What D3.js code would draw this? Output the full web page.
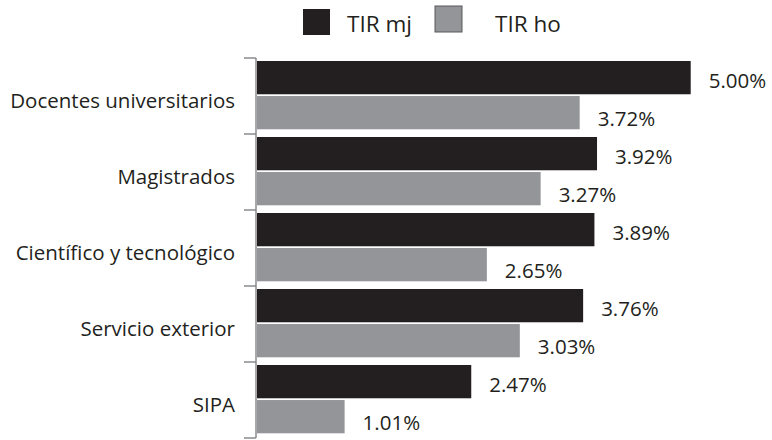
<!DOCTYPE html>
<html>
<head>
<meta charset="utf-8">
<script src="https://cdn.jsdelivr.net/npm/d3@7"></script>
<style>
  body { margin: 0; background: #fff; }
  text { font-family: "Open Sans", sans-serif; fill: #231f20; }
</style>
</head>
<body>
<svg id="chart" width="772" height="440"></svg>
<script>
const categories = ["Docentes universitarios", "Magistrados", "Científico y tecnológico", "Servicio exterior", "SIPA"];
const tirMj = [5.00, 3.92, 3.89, 3.76, 2.47];
const tirHo = [3.72, 3.27, 2.65, 3.03, 1.01];
const seriesNames = ["TIR mj", "TIR ho"];
const colors = ["#231f20", "#939598"];

const svg = d3.select("#chart");

// Scales
const x = d3.scaleLinear().domain([0, 5]).range([257, 690.7]);
const y = d3.scaleBand().domain(categories).range([58, 438]).paddingInner(0);
const inner = d3.scaleBand().domain(seriesNames).range([3, 71.3]).paddingInner(0.05);

const data = categories.map((c, i) => ({ cat: c, vals: [tirMj[i], tirHo[i]] }));

// Bars
const groups = svg.selectAll("g.cat")
  .data(data)
  .enter()
  .append("g")
  .attr("class", "cat")
  .attr("transform", (d) => "translate(0," + y(d.cat) + ")");

groups.selectAll("rect")
  .data((d) => d.vals.map((v, j) => ({ v, s: seriesNames[j], j })))
  .enter()
  .append("rect")
  .attr("x", x(0))
  .attr("y", (d) => inner(d.s))
  .attr("width", (d) => x(d.v) - x(0))
  .attr("height", inner.bandwidth())
  .attr("fill", (d) => colors[d.j]);

// Value labels
groups.selectAll("text.val")
  .data((d) => d.vals.map((v, j) => ({ v, s: seriesNames[j], j })))
  .enter()
  .append("text")
  .attr("class", "val")
  .attr("x", (d) => x(d.v) + 18)
  .attr("y", (d) => inner(d.s) + inner.bandwidth() / 2 + (d.j === 0 ? 2 : 5.5))
  .attr("dominant-baseline", "central")
  .style("font-size", "20.5px")
  .text((d) => d.v.toFixed(2) + "%");

// Category labels
svg.selectAll("text.cat")
  .data(categories)
  .enter()
  .append("text")
  .attr("class", "cat")
  .attr("x", 235)
  .attr("y", (d) => y(d) + y.bandwidth() / 2 + 4)
  .attr("text-anchor", "end")
  .attr("dominant-baseline", "central")
  .style("font-size", "20.5px")
  .text((d) => d);

// Axis line with ticks at band boundaries
const axis = svg.append("g").attr("stroke", "#6d6e71").attr("stroke-width", 1.2);
axis.append("line")
  .attr("x1", 256).attr("x2", 256)
  .attr("y1", y.range()[0]).attr("y2", y.range()[1]);
const bounds = categories.map((c) => y(c)).concat([y.range()[1]]);
axis.selectAll("line.tick")
  .data(bounds)
  .enter()
  .append("line")
  .attr("class", "tick")
  .attr("x1", 244).attr("x2", 256)
  .attr("y1", (d) => d).attr("y2", (d) => d);

// Legend
const legend = [
  { name: seriesNames[0], sx: 303, sy: 9, tx: 347 },
  { name: seriesNames[1], sx: 435, sy: 6, tx: 495 }
];
legend.forEach((l, i) => {
  svg.append("rect")
    .attr("x", l.sx).attr("y", l.sy)
    .attr("width", 27).attr("height", 26)
    .attr("fill", colors[i])
    .attr("stroke", i === 1 ? "#58595b" : "none")
    .attr("stroke-width", 1);
  svg.append("text")
    .attr("x", l.tx).attr("y", 23)
    .attr("dominant-baseline", "central")
    .style("font-size", "22.5px")
    .text(l.name);
});
</script>
</body>
</html>
